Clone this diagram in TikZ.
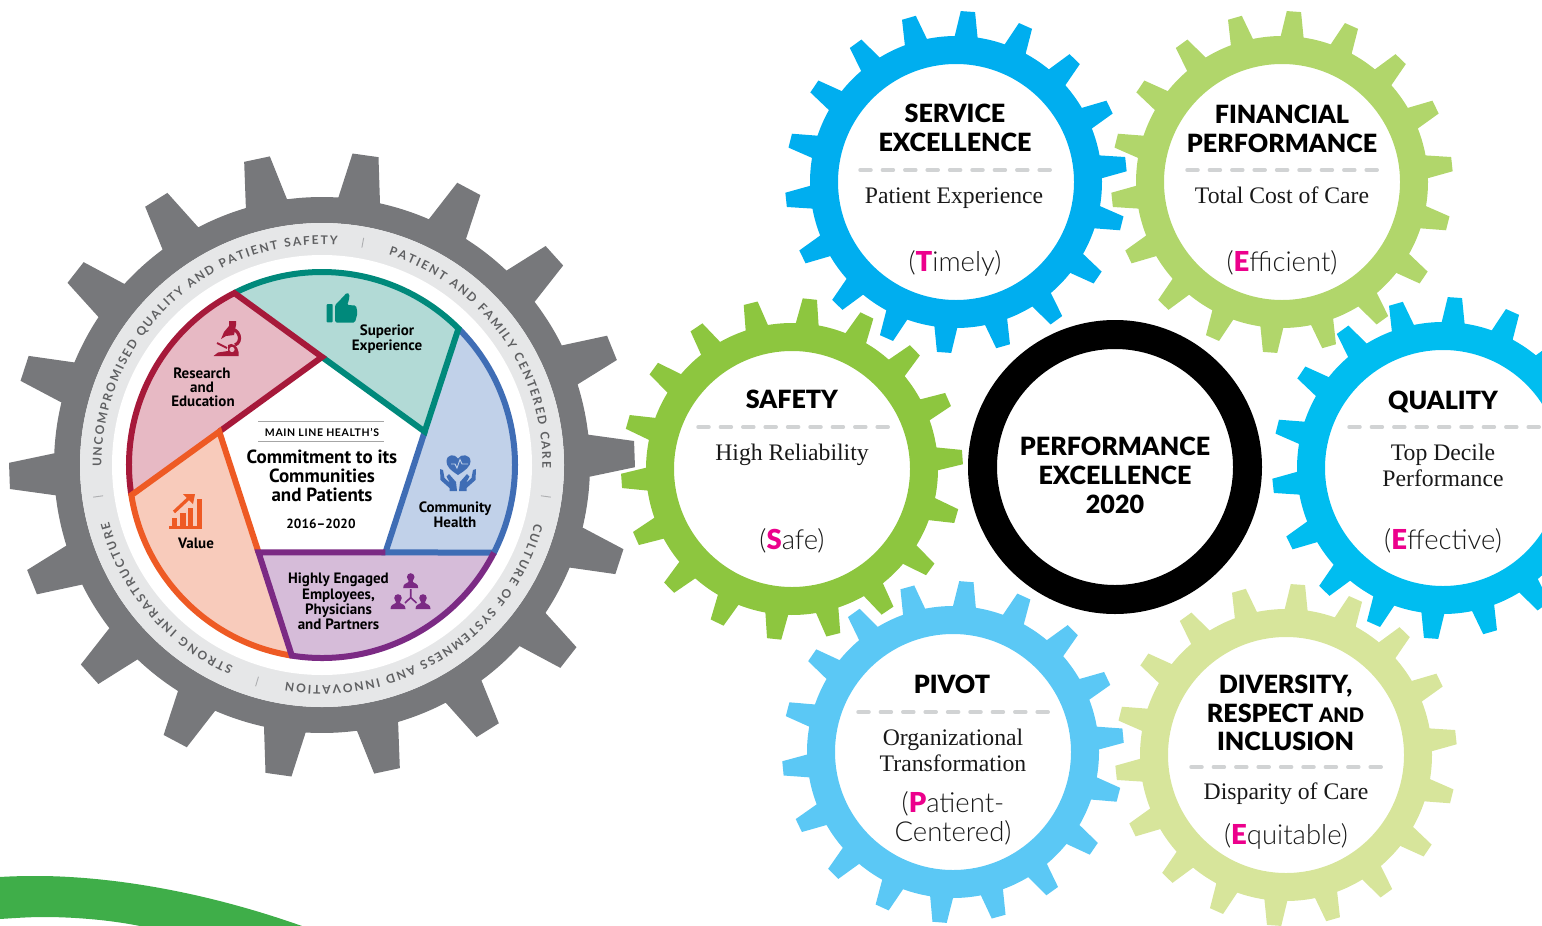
\documentclass[tikz,border=0pt]{standalone}
\usepackage{fontspec}
\setmainfont{Liberation Serif}
\newfontfamily\hdf{Lato}
\newfontfamily\blkf{Lato Black}
\newfontfamily\ltf{Lato Light}
\newfontfamily\ptf{PT Sans}
\usetikzlibrary{decorations.text,calc}
\definecolor{cService}{HTML}{00AEEF}
\definecolor{cFin}{HTML}{B1D66B}
\definecolor{cSafe}{HTML}{8DC63F}
\definecolor{cQual}{HTML}{00BDF0}
\definecolor{cPivot}{HTML}{5BC8F5}
\definecolor{cDiv}{HTML}{D7E59B}
\definecolor{cPink}{HTML}{EC008C}
\definecolor{cGear}{HTML}{77787B}
\definecolor{cRing}{HTML}{E6E7E8}
\definecolor{cDash}{HTML}{D1D3D4}
\definecolor{cGreen}{HTML}{3FAE49}
\definecolor{tealS}{HTML}{00897B}\definecolor{tealF}{HTML}{B2DAD6}
\definecolor{redS}{HTML}{A6193A}\definecolor{redF}{HTML}{E7B9C4}
\definecolor{oraS}{HTML}{EE5A24}\definecolor{oraF}{HTML}{F8CBBB}
\definecolor{purS}{HTML}{7B2A84}\definecolor{purF}{HTML}{D6BCD9}
\definecolor{bluS}{HTML}{3F6DB5}\definecolor{bluF}{HTML}{C1D1E9}
% gear: cx cy hole root tip phase colour
\newcommand{\geargear}[7]{%
 \fill[#7,even odd rule] ($(#1,#2)+(#6-4.5:#4)$)
 \foreach \gK [evaluate=\gK as \gA using #6+20*\gK] in {0,...,17}{
   -- ($(#1,#2)+(\gA-2.4:#5)$) -- ($(#1,#2)+(\gA+2.4:#5)$) -- ($(#1,#2)+(\gA+4.5:#4)$)
   arc[start angle=\gA+4.5,end angle=\gA+15.5,radius=#4]
 } -- cycle (#1,#2) circle (#3);
}
\newcommand{\pieslice}[2]{% theta fill
 \fill[#2] ($(322,-465)+(#1+72:193)$) arc[start angle=#1+72,end angle=#1,radius=193] -- ($(322,-465)+(#1-27:108)$) -- ($(322,-465)+(#1+45:108)$) -- cycle;
}
\newcommand{\pieline}[2]{%
 \draw[#2,line width=6pt,line join=miter,miter limit=3] ($(322,-465)+(#1+72:193)$) arc[start angle=#1+72,end angle=#1,radius=193] -- ($(322,-465)+(#1-27:108)$) -- ($(322,-465)+(#1+45:108)$);
}
\newcommand{\ringtext}[3]{%
 \path[decorate,decoration={text along path,text align=fit to path,text={|\hdf\bfseries\fontsize{12}{12}\selectfont\color{cGear!80!black}|#3}}]
   ($(322,-465)+(#1:220.5)$) arc[start angle=#1,end angle=#2,radius=220.5];
}
\newcommand{\person}[3]{% x,y(head centre), colour
 \fill[#3] (#1,#2) circle (3.8) (#1-2.4,#2-2) -- (#1-2.2,#2-5) .. controls (#1-5,#2-6.5) and (#1-7.5,#2-7) .. (#1-7.5,#2-11) -- (#1+7.5,#2-11) .. controls (#1+7.5,#2-7) and (#1+5,#2-6.5) .. (#1+2.2,#2-5) -- (#1+2.4,#2-2) -- cycle;
}
\tikzset{
 hdt/.style={font=\blkf\fontsize{25.1}{25.1}\selectfont,anchor=base,inner sep=0pt,text=black},
 sub/.style={font=\fontsize{23.7}{23.7}\selectfont,anchor=base,inner sep=0pt,text=black!90},
 tag/.style={font=\ltf\fontsize{27.5}{27.5}\selectfont,anchor=base,inner sep=0pt,text=black!90},
 lab/.style={font=\ptf\bfseries\fontsize{15}{15}\selectfont,anchor=base,inner sep=0pt,text=black},
 big/.style={font=\ptf\bfseries\fontsize{19}{19}\selectfont,anchor=base,inner sep=0pt,text=black},
 dashrule/.style={cDash,line width=3.5pt,line cap=round,dash pattern=on 11pt off 11.4pt},
}
\newcommand{\pk}[1]{{\blkf\color{cPink}#1}}
\begin{document}
\begin{tikzpicture}[x=1pt,y=1pt]
\useasboundingbox (0,0) rectangle (1542,-926);
\clip (0,0) rectangle (1542,-926);
% green arc
\fill[cGreen] (0,-877) .. controls (15,-876) and (30,-876) .. (43,-876) .. controls (110,-877) and (200,-890) .. (302,-926) -- (140,-926) .. controls (110,-920) and (75,-917) .. (43,-917) .. controls (30,-917) and (15,-918) .. (0,-919) -- cycle;
% big gear
\geargear{322}{-465}{242}{268}{313}{2}{cGear}
\fill[cRing] (322,-465) circle (242);
\fill[white] (322,-465) circle (210);
\foreach \a in {79.6,-8,-106.7,-172}{
  \draw[cGear!60,line width=0.9pt] ($(322,-465)+(\a:221)$) -- ($(322,-465)+(\a:231)$);
}
\ringtext{180.5}{86}{UNCOMPROMISED QUALITY AND PATIENT SAFETY}
\ringtext{72.4}{-0.8}{PATIENT AND FAMILY CENTERED CARE}
\ringtext{-15.3}{-99.4}{CULTURE OF SYSTEMNESS AND INNOVATION}
\ringtext{-113.7}{-165}{STRONG INFRASTRUCTURE}
% wedges
\pieslice{45}{tealF}
\pieslice{117}{redF}
\pieslice{189}{oraF}
\pieslice{261}{purF}
\pieslice{333}{bluF}
\pieline{333}{bluS}
\pieline{45}{tealS}
\pieline{117}{redS}
\pieline{189}{oraS}
\pieline{261}{purS}
% thumb
\fill[tealS,rounded corners=0.8pt] (326.7,-304) rectangle (332.7,-322.3);
\fill[tealS,rounded corners=1.5pt] (335,-305) -- (342,-298) -- (347,-292.5) -- (349.5,-294) -- (349,-300) -- (347,-305) -- (356,-305.5) -- (357.5,-313) -- (355,-322.5) -- (335,-322.5) -- cycle;
% microscope
\fill[redS] (213.5,-356) -- (238.5,-356) -- (238.5,-352) .. controls (238,-346) and (232,-342) .. (228,-345) -- (228,-351) -- (218,-352.5) -- cycle;
\fill[redF] (232,-349.5) circle (2.6);
\draw[redS,line width=3.2pt] (229,-329) .. controls (240,-328) and (243,-342) .. (235,-345);
\fill[redS] (221,-339) -- (224,-332) -- (229,-326) -- (229,-321) -- (236,-321) -- (236,-325) -- (234,-335) -- (226,-336) -- cycle;
\draw[redS,line width=2pt] (217,-343) -- (227,-348);
% chart
\fill[oraS] (169,-526) rectangle (202,-529);
\foreach \xa/\xb/\tp in {172/177/518,180/185.5/513,188/193/508,197/202/499}{\fill[oraS] (\xa,-\tp) rectangle (\xb,-527);}
\draw[oraS,line width=3.3pt] (174,-512) -- (189,-498);
\fill[oraS] (183,-494) -- (195,-494) -- (193,-504) -- cycle;
% heart + hands
\fill[bluS] (458,-475) .. controls (450,-470) and (446.5,-466) .. (446.5,-461.5) .. controls (446.5,-454) and (455,-453.5) .. (458,-458.5) .. controls (461,-453.5) and (470.5,-454) .. (470.5,-461.5) .. controls (470.5,-466) and (466,-470) .. (458,-475) -- cycle;
\draw[bluF,line width=0.9pt] (451,-464) -- (455,-464) -- (457,-468) -- (460,-459.5) -- (462,-464) -- (468,-464);
\foreach \s in {0,1}{
 \begin{scope}[shift={(\s*916,0)},xscale=1-2*\s]
  \fill[bluS] (440,-469) -- (443,-470) -- (444.5,-478) -- (450,-483) -- (446.5,-476.5) -- (449,-474) -- (456,-482) -- (457,-491) -- (449.5,-491) -- (449.5,-488) -- (440.5,-480) -- cycle;
 \end{scope}}
% people
\person{410.7}{-577}{purS}\person{398}{-598}{purS}\person{423}{-598}{purS}
\draw[purS,line width=1.6pt] (410.7,-597.5) -- (410.7,-589) (410.7,-597.5) -- (405,-603) (410.7,-597.5) -- (416.5,-603);
% pie labels
\draw[gray!70,line width=0.5pt] (258,-421) -- (384,-421) (258,-441.5) -- (384,-441.5);
\node[font=\hdf\bfseries\fontsize{10.5}{10.5}\selectfont\addfontfeature{LetterSpace=6},anchor=base,inner sep=0pt] (mlh) at (322,-436) {MAIN LINE HEALTH’S};
\node[big] (c1) at (322,-463) {Commitment to its};
\node[big] (c2) at (322,-482.5) {Communities};
\node[big] (c3) at (322,-501) {and Patients};
\node[lab,font=\ptf\bfseries\fontsize{13.3}{13.3}\selectfont] (yr) at (321,-528) {2016–2020};
\node[lab] (s1) at (387,-335) {Superior};
\node[lab] (s2) at (387,-350) {Experience};
\node[lab] (r1) at (202,-378) {Research};
\node[lab] (r2) at (202,-392) {and};
\node[lab] (r3) at (203,-406) {Education};
\node[lab] (ch1) at (455,-512) {Community};
\node[lab] (ch2) at (455,-527) {Health};
\node[lab] (v) at (196,-548) {Value};
\node[lab] (h1) at (338.5,-583) {Highly Engaged};
\node[lab] (h2) at (338.5,-599) {Employees,};
\node[lab] (h3) at (338.5,-614) {Physicians};
\node[lab] (h4) at (338.5,-629) {and Partners};
% gears
\geargear{956}{-182}{118}{146}{171}{6}{cService}
\geargear{1282}{-182}{118}{146}{171}{6}{cFin}
\geargear{792}{-469}{118}{146}{171}{4}{cSafe}
\geargear{1443}{-468}{118}{146}{171}{6}{cQual}
\geargear{953}{-752}{118}{146}{171}{5.5}{cPivot}
\geargear{1286}{-755}{118}{146}{171}{6}{cDiv}
\fill[black,even odd rule] (1115,-467) circle (147) (1115,-467) circle (118);
% service
\node[hdt] (a1) at (955,-122.5) {SERVICE};
\node[hdt] (a2) at (955,-151.5) {EXCELLENCE};
\draw[dashrule] (860,-170) -- (1052,-170);
\node[sub] (a3) at (954,-203.5) {Patient Experience};
\node[tag] (a4) at (955,-271) {(\pk{T}imely)};
% financial
\node[hdt] (b1) at (1282,-123.5) {FINANCIAL};
\node[hdt] (b2) at (1282,-152.5) {PERFORMANCE};
\draw[dashrule] (1187,-170) -- (1380,-170);
\node[sub] (b3) at (1282,-203.5) {Total Cost of Care};
\node[tag] (b4) at (1282,-271) {(\pk{E}fficient)};
% safety
\node[hdt] (d1) at (792,-408.5) {SAFETY};
\draw[dashrule] (698,-427) -- (890,-427);
\node[sub] (d3) at (792,-460.5) {High Reliability};
\node[tag] (d4) at (792,-549.5) {(\pk{S}afe)};
% quality
\node[hdt] (e1) at (1443,-409.5) {QUALITY};
\draw[dashrule] (1349,-427) -- (1542,-427);
\node[sub] (e2) at (1443,-460.5) {Top Decile};
\node[sub] (e3) at (1443,-486.5) {Performance};
\node[tag] (e4) at (1443,-549.5) {(\pk{E}ffective)};
% pivot
\node[hdt] (f1) at (952,-693.5) {PIVOT};
\draw[dashrule] (858,-712) -- (1050,-712);
\node[sub] (f2) at (953,-745) {Organizational};
\node[sub] (f3) at (953,-771) {Transformation};
\node[tag] (f4) at (953,-812.5) {(\pk{P}atient-};
\node[tag] (f5) at (953,-841.5) {Centered)};
% diversity
\node[hdt] (g1) at (1285.5,-693.5) {DIVERSITY,};
\node[hdt] (g2) at (1285.5,-722) {RESPECT {\fontsize{20}{20}\selectfont AND}};
\node[hdt] (g3) at (1285.5,-750.5) {INCLUSION};
\draw[dashrule] (1191,-767) -- (1383,-767);
\node[sub] (g4) at (1286,-799.5) {Disparity of Care};
\node[tag] (g5) at (1286,-844.5) {(\pk{E}quitable)};
% centre
\node[hdt] (p1) at (1115,-455.5) {PERFORMANCE};
\node[hdt] (p2) at (1115,-484.5) {EXCELLENCE};
\node[hdt] (p3) at (1115,-513.5) {2020};
\end{tikzpicture}
\end{document}
